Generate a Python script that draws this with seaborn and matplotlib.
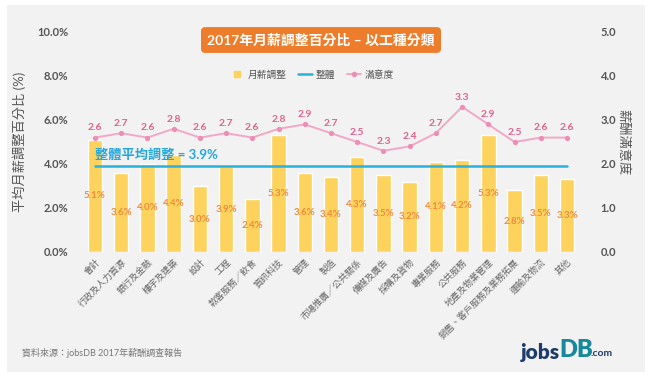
import numpy as np
import pandas as pd
import matplotlib
matplotlib.use("Agg")
import matplotlib.pyplot as plt
from matplotlib.patches import Rectangle
from matplotlib.lines import Line2D
import seaborn as sns

categories = ["會計", "行政及人力資源", "銀行及金融", "樓宇及建築", "設計", "工程",
              "款客服務／飲食", "資訊科技", "管理", "製造", "市場推廣／公共關係",
              "傳媒及廣告", "採購及貨物", "專業服務", "公共服務", "地產及物業管理",
              "銷售、客戶服務及業務拓展", "運輸及物流", "其他"]
salary_adj = [5.1, 3.6, 4.0, 4.4, 3.0, 3.9, 2.4, 5.3, 3.6, 3.4, 4.3, 3.5, 3.2, 4.1, 4.2, 5.3, 2.8, 3.5, 3.3]
satisfaction = [2.6, 2.7, 2.6, 2.8, 2.6, 2.7, 2.6, 2.8, 2.9, 2.7, 2.5, 2.3, 2.4, 2.7, 3.3, 2.9, 2.5, 2.6, 2.6]
overall = 3.9
left_ticks = [0, 2, 4, 6, 8, 10]
right_ticks = [0, 1, 2, 3, 4, 5]

sns.set_theme(style="white")
plt.rcParams['font.family'] = ['Lato', 'Noto Sans CJK TC', 'DejaVu Sans']

W, H = 651, 377
fig = plt.figure(figsize=(W / 100, H / 100), dpi=100, facecolor="white")

# gray panel background
fig.patches.append(Rectangle((7 / W, 1 - 372 / H), (645 - 7) / W, (372 - 5) / H,
                             transform=fig.transFigure, facecolor="#f2f2f2",
                             edgecolor="none", zorder=-10))

ax = fig.add_axes([74 / W, 1 - 252 / H, (588 - 74) / W, (252 - 32) / H])
ax.set_facecolor("none")
ax.set_zorder(1)

df = pd.DataFrame({"cat": categories, "adj": salary_adj, "sat": satisfaction})
n = len(categories)

BAR = "#fdd35e"
sns.barplot(data=df, x="cat", y="adj", order=categories, color=BAR, width=0.55,
            saturation=1, ax=ax, zorder=2)
ax.set_xlim(-0.8, n - 1 + 0.8)
ax.set_ylim(0, 10)
ax.set_yticks(left_ticks)
ax.set_yticklabels([f"{v:.1f}%" for v in left_ticks], fontsize=8, fontweight="bold",
                   color="#555555")
ax.set_xticks(range(n))
ax.set_xticklabels(categories, rotation=45, ha="right", rotation_mode="anchor",
                   fontsize=6.5, color="#666666")
ax.tick_params(axis="x", length=0, pad=4)
ax.tick_params(axis="y", length=0, pad=4)
ax.set_xlabel("")
ax.set_ylabel("平均月薪調整百分比 (%)", fontsize=9.5, color="#555555", labelpad=8)
for s in ax.spines.values():
    s.set_visible(False)

# bar value labels at middle of bars
for i, v in enumerate(salary_adj):
    ax.text(i, v / 2, f"{v:.1f}%", ha="center", va="center", fontsize=7,
            fontweight="bold", color="#ee8a3c", zorder=5)

# overall line
BLUE = "#25b3dc"
sns.lineplot(x=[0, n - 1], y=[overall, overall], color=BLUE, lw=1.8, ax=ax, zorder=4)
ax.text(0, overall + 0.25, f"整體平均調整 = {overall}%", ha="left", va="bottom",
        fontsize=9.5, color="#27a6d8", fontweight="bold", zorder=6)

# satisfaction on twin axis
ax2 = ax.twinx()
ax2.set_facecolor("none")
ax2.set_zorder(2)
PINK = "#f3a7c6"
sns.lineplot(x=np.arange(n), y=satisfaction, color=PINK, lw=1.4, marker="o",
             markersize=3, markeredgecolor="#ec8fb5", markerfacecolor="#ec8fb5", ax=ax2, zorder=6)
ax2.set_ylim(0, 5)
ax2.set_xlim(-0.8, n - 1 + 0.8)
ax2.set_yticks(right_ticks)
ax2.set_yticklabels([f"{v:.1f}" for v in right_ticks], fontsize=8, fontweight="bold",
                    color="#555555")
ax2.tick_params(axis="y", length=0, pad=9)
ax2.set_ylabel("薪酬滿意度", fontsize=9.5, color="#555555", rotation=-90, labelpad=10)
for s in ax2.spines.values():
    s.set_visible(False)
for i, v in enumerate(satisfaction):
    ax2.text(i, v + 0.12, f"{v:.1f}", ha="center", va="bottom", fontsize=7.5,
             fontweight="bold", color="#e0628f", zorder=7)

# title box
fig.text(321 / W, 1 - 40 / H, "2017年月薪調整百分比 – 以工種分類", ha="center", va="center",
         fontsize=10, fontweight="bold", color="white", zorder=5,
         bbox=dict(boxstyle="round,pad=0.45,rounding_size=0.3", fc="#ee7d2b", ec="none"))

# legend
handles = [Line2D([], [], color=BAR, marker="s", lw=0, markersize=5),
           Line2D([], [], color=BLUE, lw=1.8),
           Line2D([], [], color=PINK, lw=1.4, marker="o", markersize=3,
                  markerfacecolor="#ec8fb5", markeredgecolor="#ec8fb5")]
leg = fig.legend(handles, ["月薪調整", "整體", "滿意度"], loc="center", ncol=3,
                 bbox_to_anchor=(312 / W, 1 - 75 / H), frameon=False, fontsize=7,
                 labelcolor="#555555", handlelength=1.4, handletextpad=0.4, columnspacing=1.2)
leg.set_zorder(5)

# source
fig.text(22 / W, 1 - 353 / H, "資料來源：jobsDB 2017年薪酬調查報告", ha="left", va="center",
         fontsize=6.5, color="#777777")

# logo
fig.text(521 / W, 1 - 352 / H, "jobs", ha="left", va="center", fontsize=15,
         fontweight="heavy", color="#1d3c6c")
fig.text(559 / W, 1 - 350 / H, "DB", ha="left", va="center", fontsize=17,
         fontweight="heavy", color="#17899b")
fig.text(591 / W, 1 - 354 / H, ".com", ha="left", va="center", fontsize=7.5,
         fontweight="bold", color="#1d3c6c")

fig.savefig("out.png", dpi=100, facecolor="white")
